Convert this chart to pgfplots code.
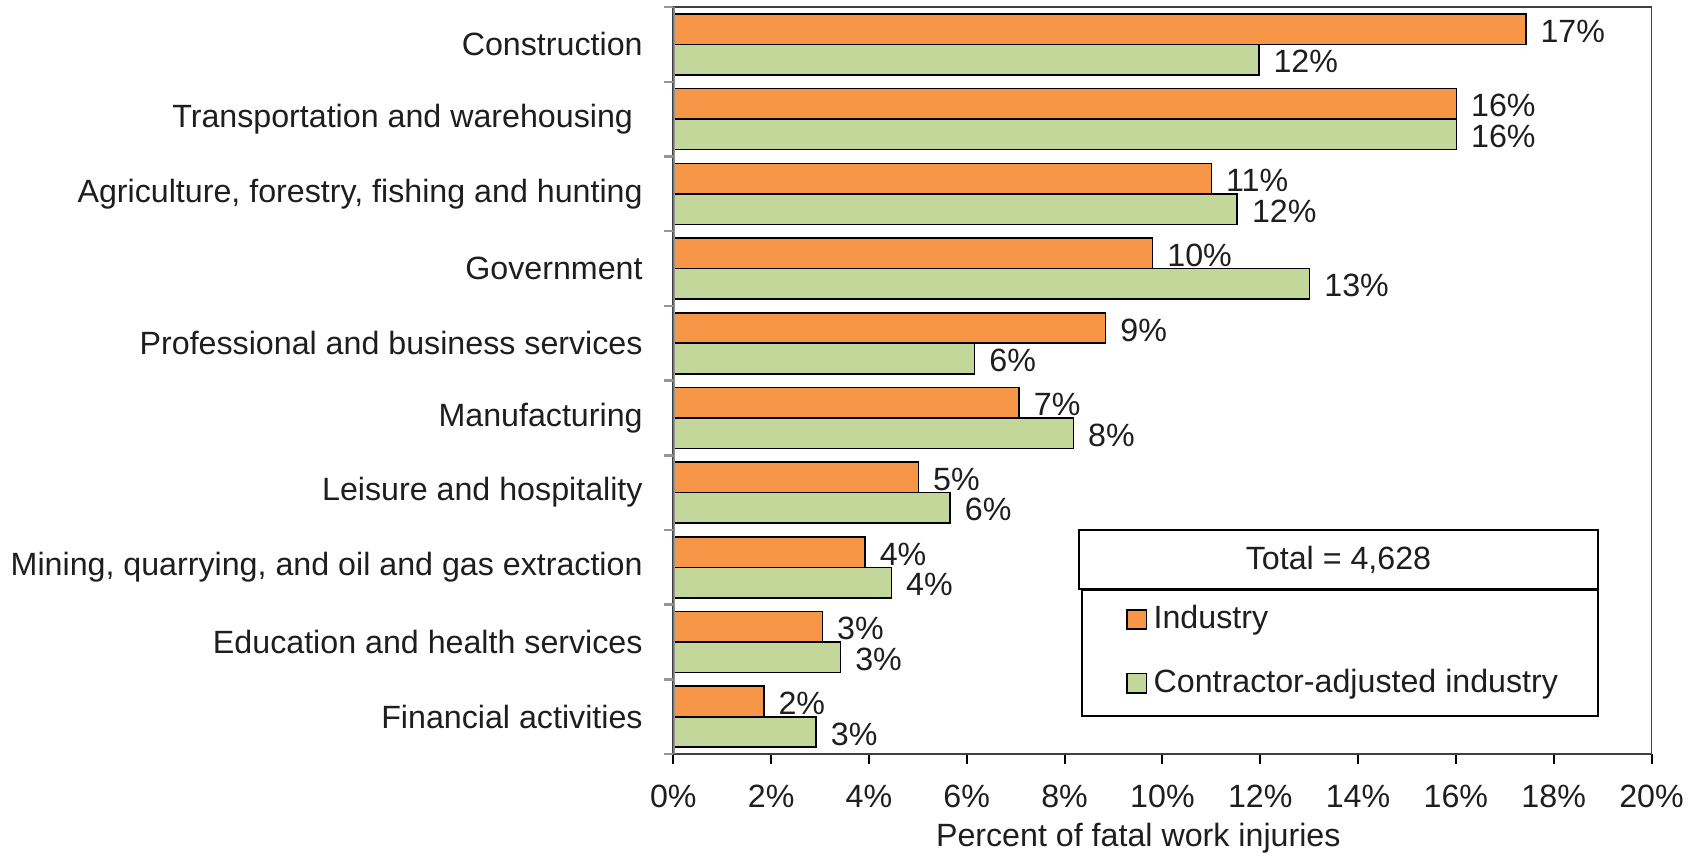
\documentclass[border=0pt]{standalone}
\usepackage{pgfplots}
\pgfplotsset{compat=1.18}
\usepackage{fontspec}
\setmainfont{Liberation Sans}
\definecolor{indorange}{RGB}{247,150,70}
\definecolor{congreen}{RGB}{196,215,155}
\definecolor{txt}{RGB}{30,30,30}
\definecolor{frame}{RGB}{150,150,150}

\begin{document}
\fontsize{10}{12}\selectfont
\begin{tikzpicture}[every node/.append style={text=txt}]
\begin{axis}[
  at={(0pt,0pt)}, anchor=south west,
  width=303.8pt, height=232pt, scale only axis,
  xbar, bar width=0.408,
  xmin=0, xmax=20, ymin=-0.5, ymax=9.5,
  xtick={0,2,...,20},
  xticklabels={0\%,2\%,4\%,6\%,8\%,10\%,12\%,14\%,16\%,18\%,20\%},
  xticklabel style={yshift=-3pt},
  ytick={0,...,9},
  yticklabels={Financial activities, Education and health services,
    {Mining, quarrying, and oil and gas extraction}, Leisure and hospitality,
    Manufacturing, Professional and business services, Government,
    {Agriculture, forestry, fishing and hunting}, Transportation and warehousing\rule{3pt}{0pt},
    Construction},
  yticklabel style={xshift=-3pt},
  ytick style={draw=none},
  extra y ticks={-0.5,0.5,...,9.5},
  extra y tick labels={},
  extra y tick style={ytick style={draw=frame, line width=0.8pt}},
  xtick pos=bottom, ytick pos=left,
  tick align=outside, major tick length=3pt,
  xtick style={black, line width=0.6pt},
  axis line style={black!75, line width=0.5pt},
  xlabel={Percent of fatal work injuries},
  xlabel style={xshift=-7.5pt, yshift=2pt},
  /pgf/number format/assume math mode=true,
  point meta=x,
  nodes near coords={\pgfmathprintnumber[fixed,precision=0]{\pgfplotspointmeta}\%},
  nodes near coords align={horizontal},
  every node near coord/.append style={xshift=1pt, yshift=-0.6pt},
  area legend,
  legend image code/.code={\draw[#1] (0pt,-3pt) rectangle (6pt,3pt);},
  legend style={draw=none, fill=none, at={(axis cs:9.05,0.876)}, anchor=west,
    row sep=7pt, legend cell align=left, font=\fontsize{10}{12}\selectfont},
]
% Industry (orange), top bar of each pair
\addplot[fill=indorange, draw=black, line width=0.5pt, bar shift=0.204]
  coordinates {(1.85,0)(3.05,1)(3.92,2)(5.01,3)(7.07,4)(8.84,5)(9.80,6)(11.00,7)(16.01,8)(17.43,9)};
% Contractor-adjusted industry (green), lower bar
\addplot[fill=congreen, draw=black, line width=0.5pt, bar shift=-0.204]
  coordinates {(2.92,0)(3.42,1)(4.46,2)(5.66,3)(8.18,4)(6.16,5)(13.01,6)(11.53,7)(16.01,8)(11.97,9)};
\legend{Industry, Contractor-adjusted industry}
\draw[frame, line width=0.8pt] (rel axis cs:0,0) -- (rel axis cs:0,1);
\draw[black, line width=0.6pt, fill=white] (axis cs:8.3,1.71) rectangle (axis cs:18.9,2.5);
\node at (axis cs:13.6,2.105) {Total = 4,628};
\draw[black, line width=0.6pt] (axis cs:8.35,0.01) rectangle (axis cs:18.9,1.695);
\end{axis}
\pgfresetboundingbox
\path (-209.1pt,-31.7pt) rectangle (317.3pt,234.2pt);
\end{tikzpicture}
\end{document}
